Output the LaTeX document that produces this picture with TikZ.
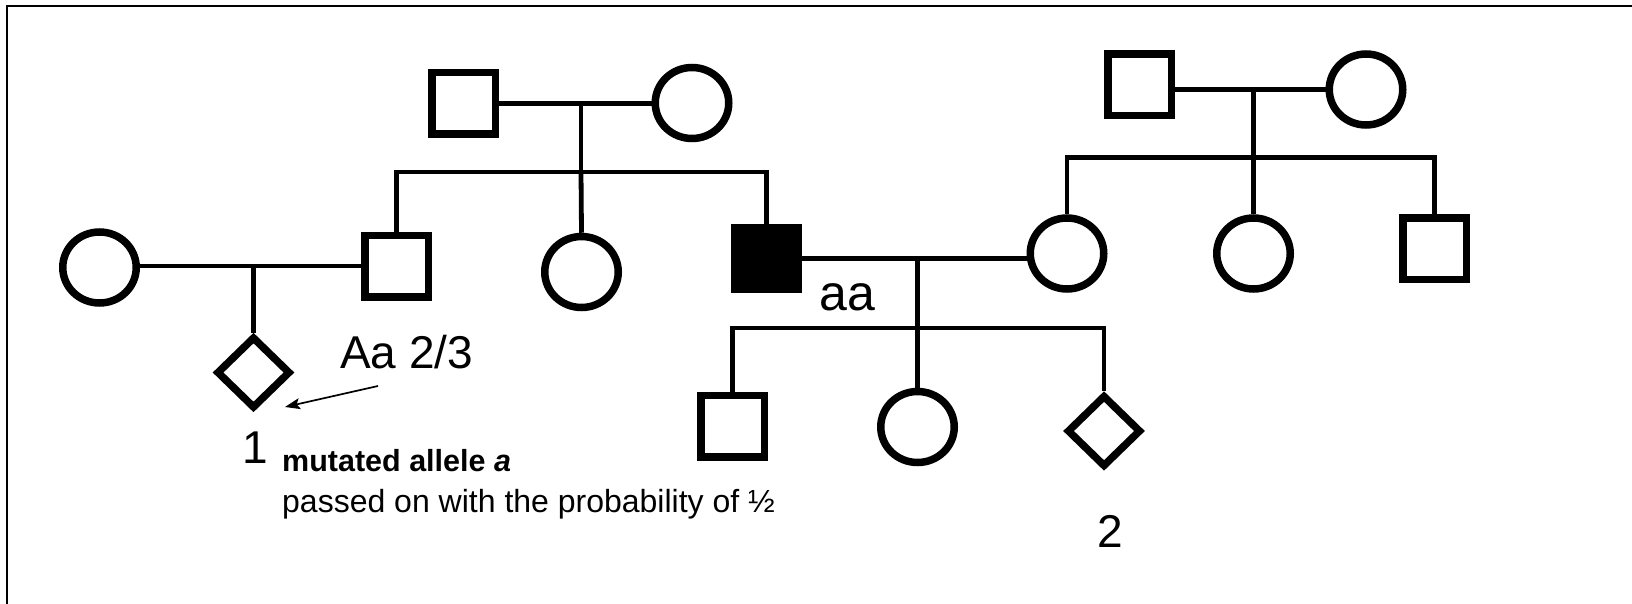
\documentclass[tikz,border=0pt]{standalone}
\usepackage{fontspec}
\setmainfont{Liberation Sans}
\usetikzlibrary{arrows.meta, shapes.geometric}

\tikzset{
  person/.style={draw, line width=7.5pt, inner sep=0pt},
  male/.style={person, rectangle, minimum width=63.5pt, minimum height=61.5pt},
  female/.style={person, ellipse, minimum width=73.5pt, minimum height=71pt},
  unknown/.style={person, diamond, minimum width=74pt, minimum height=72pt},
  affected/.style={fill=black},
  kin/.style={line width=4.8pt},
  gtext/.style={inner sep=0pt, font=\fontsize{46}{50}\selectfont}
}

\begin{document}
\begin{tikzpicture}[x=1pt, y=-1pt, >={Stealth[length=15pt, width=11pt, inset=3pt]}]

% Canvas and frame
\useasboundingbox (0,0) rectangle (1632,604);
\draw[line width=2pt] (1632,6) -- (7,6) -- (7,604);

% Generation I
\node[male] (gfL) at (463.5,103.5) {};
\node[female] (gmL) at (692,103) {};
\node[male] (gfR) at (1139.5,85) {};
\node[female] (gmR) at (1366,89.5) {};

% Generation II
\node[female] (wifeL) at (99.5,267.5) {};
\node[male] (uncle) at (396.5,266) {};
\node[female] (aunt) at (581.5,272) {};
\node[male, affected] (patient) at (766.5,258.5) {};
\node[female] (spouse) at (1067,253.5) {};
\node[female] (sisR) at (1253.5,253.5) {};
\node[male] (broR) at (1434.5,248.5) {};

% Generation III
\node[unknown] (child1) at (253.5,372.5) {};
\node[male] (son2) at (732.5,426) {};
\node[female] (dau2) at (917.5,427) {};
\node[unknown] (child2) at (1104,431) {};

% Family lines, left grandparents
\coordinate (m1) at (581,103.5);
\coordinate (s1) at (581,172);
\draw[kin] (gfL.east) -- (gfL.east -| gmL.west);
\draw[kin] (m1) -- (s1);
\draw[kin] (uncle.north) |- (s1) -| (patient.north);
\draw[kin] (s1) -- (aunt.north);

% Family lines, right grandparents
\coordinate (m2) at (1253.5,89.5);
\coordinate (s2) at (1253.5,157.5);
\draw[kin] (gmR.west) -- (gmR.west -| gfR.east);
\draw[kin] (m2) -- (s2);
\draw[kin] (spouse.north) |- (s2) -| (broR.north);
\draw[kin] (s2) -- (sisR.north);

% Couple on the left and child 1
\draw[kin] (uncle.west) -- (uncle.west -| wifeL.east);
\draw[kin] (child1.north |- uncle.west) -- (child1.north);

% Affected father, his wife and their children
\coordinate (s4) at (917.5,328);
\draw[kin] (patient.east) -- (patient.east -| spouse.west);
\draw[kin] (dau2.north |- patient.east) -- (dau2.north);
\draw[kin] (son2.north) |- (s4) -| (child2.north);

% Genotype labels
\node[gtext, anchor=base west] (geno1) at (340,368) {Aa 2/3};
\node[gtext, anchor=base west, font=\fontsize{50}{54}\selectfont] (geno2) at (819,310) {aa};
\coordinate (tail) at (378,386);
\coordinate (tip) at (285,407);
\draw[->, line width=1.7pt] (tail) -- (tip);

% Numbers
\node[gtext, anchor=base] (num1) at (255,463) {1};
\node[gtext, anchor=base] (num2) at (1110,547) {2};

% Note
\node[anchor=base west, inner sep=0pt, font=\fontsize{30.5}{34}\selectfont\bfseries]
  (note1) at (282,471) {mutated allele \textit{a}};
\node[anchor=base west, inner sep=0pt, font=\fontsize{32}{36}\selectfont]
  (note2) at (282,512) {passed on with the probability of ½};

\end{tikzpicture}
\end{document}
